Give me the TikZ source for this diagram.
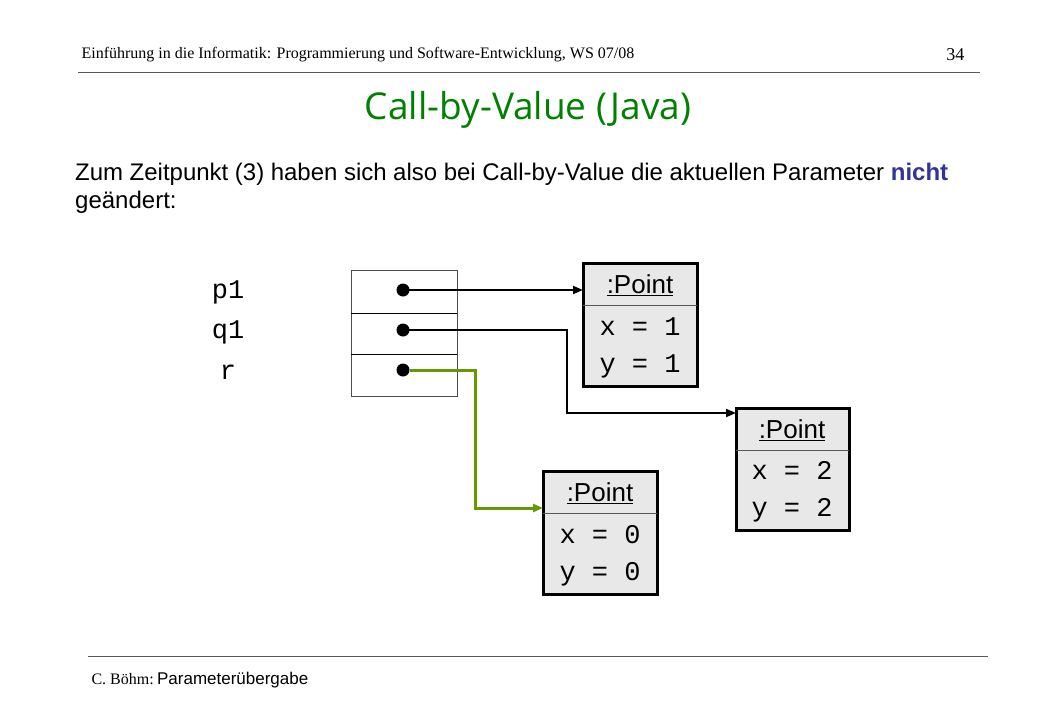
\documentclass[tikz,border=0pt]{standalone}
\usepackage{fontspec}
\setmainfont{Liberation Serif}
\newfontfamily\arial{Liberation Sans}
\newfontfamily\cour{Liberation Mono}
\newfontfamily\titlef{Open Sans}
\usetikzlibrary{arrows.meta}
\definecolor{tgreen}{HTML}{008000}
\definecolor{agreen}{HTML}{669900}
\definecolor{nblue}{HTML}{333399}
\definecolor{boxgray}{HTML}{E8E8E8}
\begin{document}
\begin{tikzpicture}[x=1pt,y=-1pt,
  obj/.style={draw=black,line width=3pt,fill=boxgray},
  ptxt/.style={font=\arial\fontsize{26}{28}\selectfont},
  vtxt/.style={font=\cour\fontsize{27}{29}\selectfont},
  ref/.style={line width=1.8pt,-{Triangle[length=10pt,width=8pt]}},
  dot/.style={circle,fill=black,inner sep=0pt,minimum size=13pt}]
\useasboundingbox (0,0) rectangle (1040,720);
\node[anchor=base west,font=\fontsize{16}{18}\selectfont] (hd) at (78,58) {Einführung in die Informatik: Programmierung und Software-Entwicklung, WS 07/08};
\node[anchor=base east,font=\fontsize{18}{20}\selectfont] (pg) at (968,60) {34};
\draw[line width=0.8pt,gray!70!black] (78,72) -- (980,72);
\node[font=\titlef\fontsize{37}{40}\selectfont,text=tgreen] (title) at (528,110) {Call-by-Value (Java)};
\node[anchor=base west,font=\arial\fontsize{24}{26}\selectfont,inner sep=0pt] (t1) at (75,180) {\makebox[873pt][s]{Zum Zeitpunkt (3) haben sich also bei Call-by-Value die aktuellen Parameter {\bfseries\color{nblue}nicht}}};
\node[anchor=base west,font=\arial\fontsize{24}{26}\selectfont,inner sep=0pt] (t2) at (75,208) {geändert:};
\node[vtxt] (lp) at (228,292) {p1};
\node[vtxt] (lq) at (228,332) {q1};
\node[vtxt] (lr) at (228,372) {r};
\draw[gray!60!black,line width=1pt] (351,270) rectangle (457,396);
\draw[black,line width=1pt] (351,313) -- (457,313) (351,354) -- (457,354);
\node[dot] (d1) at (403,290) {};
\node[dot] (d2) at (403,330) {};
\node[dot] (d3) at (403,370) {};
% objects
\draw[obj] (583,263) rectangle (697,386);
\draw[gray!70!black,line width=1pt] (583,305) -- (697,305);
\node[ptxt] (p1n) at (640,285) {\underline{:Point}};
\node[vtxt] at (640,327) {x = 1};
\node[vtxt] at (640,366) {y = 1};
\coordinate (o1) at (583,290);
\draw[obj] (736,408) rectangle (849,530);
\draw[gray!70!black,line width=1pt] (736,450) -- (849,450);
\node[ptxt] (p2n) at (792,430) {\underline{:Point}};
\node[vtxt] at (792,470) {x = 2};
\node[vtxt] at (792,510) {y = 2};
\coordinate (o2) at (736,413);
\draw[obj] (543,471) rectangle (657,594);
\draw[gray!70!black,line width=1pt] (543,513) -- (657,513);
\node[ptxt] (p3n) at (600,493) {\underline{:Point}};
\node[vtxt] at (600,535) {x = 0};
\node[vtxt] at (600,574) {y = 0};
\coordinate (o3) at (543,508);
\draw[ref] (d1.center) -- (o1);
\draw[ref] (d2.center) -- (567,330) -- (567,413) -- (o2);
\draw[ref,agreen,line width=3pt] (d3.east) -- (475,370) -- (475,508) -- (o3);
\draw[line width=0.8pt,gray!70!black] (88,656) -- (988,656);
\node[anchor=base west] (ft) at (88,684) {{\fontsize{16}{18}\selectfont C. Böhm:} {\arial\fontsize{17}{19}\selectfont Parameterübergabe}};
\end{tikzpicture}
\end{document}
